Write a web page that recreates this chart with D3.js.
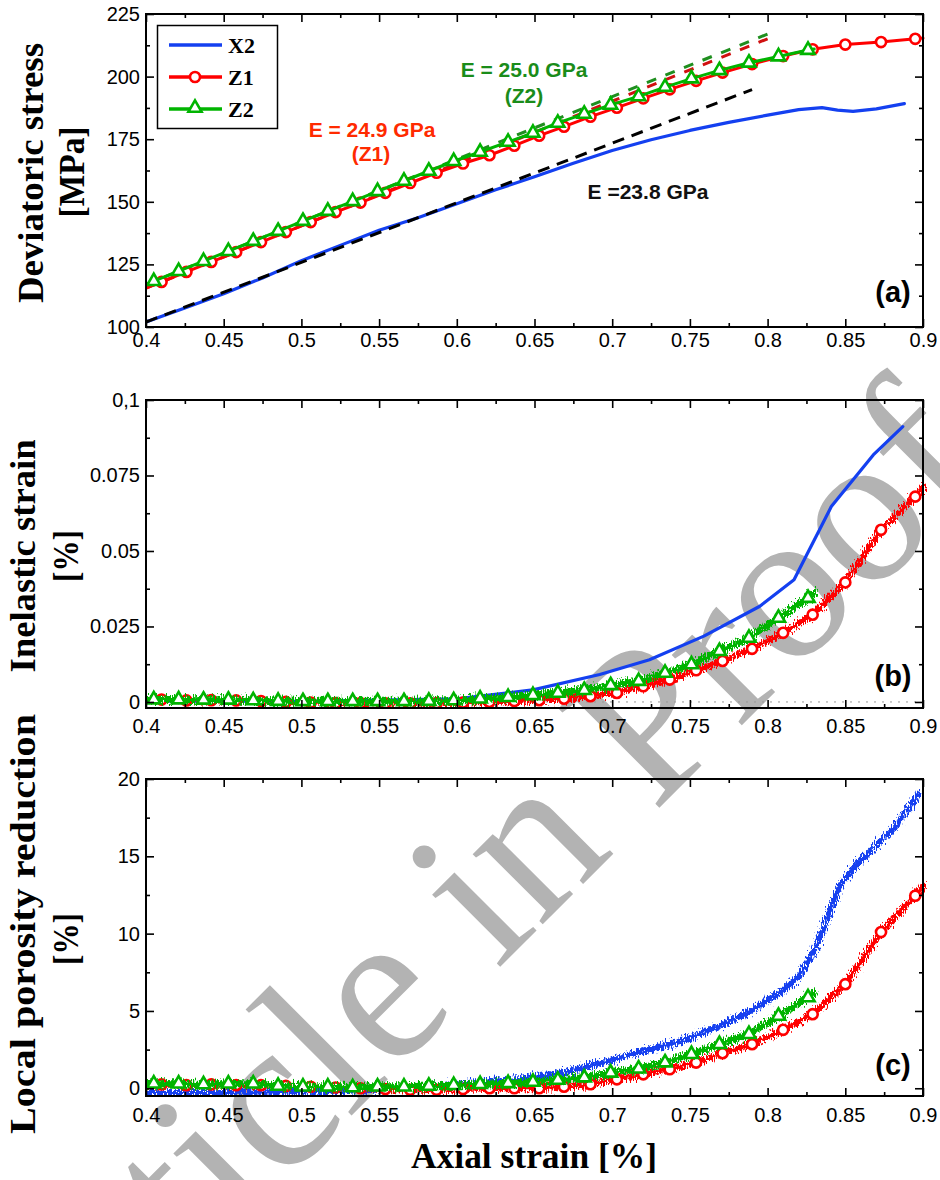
<!DOCTYPE html>
<html>
<head>
<meta charset="utf-8">
<script src="https://cdn.jsdelivr.net/npm/d3@7"></script>
<style>
  body { margin: 0; background: #fff; }
  svg { display: block; }
</style>
</head>
<body>
<svg id="fig" width="940" height="1180"></svg>
<script>
// ---- tick values -------------------------------------------------------
const strainTicks = [0.4, 0.45, 0.5, 0.55, 0.6, 0.65, 0.7, 0.75, 0.8, 0.85, 0.9];
const strainTickLabels = ["0.4", "0.45", "0.5", "0.55", "0.6", "0.65", "0.7", "0.75", "0.8", "0.85", "0.9"];
const stressTicks = [100, 125, 150, 175, 200, 225];
const inelasticTicks = [0, 0.025, 0.05, 0.075, 0.1];
const inelasticTickLabels = ["0", "0.025", "0.05", "0.075", "0,1"];
const porosityTicks = [0, 5, 10, 15, 20];

// ---- specimen names ----------------------------------------------------
const specimens = ["X2", "Z1", "Z2"];

// ---- X2 (no markers) ---------------------------------------------------
const x2StressStrain = [0.4, 0.425, 0.45, 0.475, 0.5, 0.525, 0.55, 0.575, 0.6, 0.625, 0.65, 0.675, 0.7, 0.725, 0.75, 0.775, 0.8, 0.82, 0.835, 0.845, 0.855, 0.87, 0.888];
const x2Stress = [102, 107.6, 113.3, 119.6, 126.5, 132.6, 138.6, 143.6, 149.2, 154.8, 160, 165.4, 170.5, 174.8, 178.5, 181.7, 184.6, 186.8, 187.6, 186.6, 186.1, 187.1, 189.2];

const x2InelStrain = [0.4, 0.5, 0.6, 0.649, 0.692, 0.724, 0.759, 0.795, 0.817, 0.841, 0.868, 0.887];
const x2Inelastic = [0.0003, 0.0002, 0.001, 0.004, 0.0091, 0.014, 0.0218, 0.0317, 0.0405, 0.0647, 0.0818, 0.0912];

const x2PoroStrain = [0.4, 0.45, 0.5, 0.55, 0.6, 0.62, 0.641, 0.673, 0.694, 0.716, 0.7415, 0.769, 0.791, 0.808, 0.82, 0.8316, 0.84, 0.8466, 0.855, 0.87, 0.883, 0.895, 0.897];
const x2Porosity = [-0.3, -0.3, -0.25, -0.1, 0.3, 0.45, 0.6, 1.12, 1.66, 2.3, 2.96, 4.0, 5.1, 6.2, 7.2, 9.2, 11.4, 13.1, 14.2, 15.7, 17.0, 18.7, 19.0];

// ---- Z1 (circles at every point except the two ends) -------------------
const z1Strain = [0.4, 0.41, 0.426, 0.442, 0.458, 0.474, 0.49, 0.506, 0.522, 0.538, 0.554, 0.57, 0.587, 0.604, 0.621, 0.637, 0.653, 0.669, 0.686, 0.703, 0.72, 0.737, 0.754, 0.771, 0.79, 0.81, 0.829, 0.85, 0.873, 0.895, 0.9];
const z1Stress = [115.5, 118.0, 122.0, 126.0, 129.9, 133.9, 137.9, 141.9, 145.9, 149.7, 153.6, 157.5, 161.6, 165.3, 168.6, 172.4, 176.4, 180.0, 184.0, 187.6, 191.3, 194.9, 198.3, 201.6, 205.0, 208.2, 210.9, 212.8, 213.8, 215.1, 215.4];
const z1Inelastic = [0.0008, 0.0008, 0.0005, 0.0006, 0.0005, 0.0003, 0.0, -0.0002, -0.0004, -0.0004, -0.0005, -0.0005, -0.0004, -0.0002, 0.0, 0.0003, 0.0006, 0.0011, 0.0019, 0.003, 0.0052, 0.0074, 0.0105, 0.0136, 0.0176, 0.0229, 0.0289, 0.0396, 0.057, 0.068, 0.071];
const z1Porosity = [0.2, 0.25, 0.2, 0.25, 0.2, 0.2, 0.15, 0.1, 0.05, 0.0, -0.05, -0.1, -0.1, -0.05, 0.0, 0.0, 0.0, 0.1, 0.26, 0.58, 0.9, 1.23, 1.66, 2.27, 2.85, 3.78, 4.79, 6.73, 10.1, 12.45, 13.1];

// ---- Z2 (triangles at every point except the two ends) -----------------
const z2Strain = [0.4, 0.405, 0.421, 0.437, 0.453, 0.469, 0.485, 0.501, 0.517, 0.533, 0.549, 0.566, 0.582, 0.598, 0.615, 0.633, 0.649, 0.665, 0.682, 0.699, 0.717, 0.734, 0.751, 0.769, 0.788, 0.807, 0.826, 0.83];
const z2Stress = [117.0, 118.3, 122.3, 126.3, 130.3, 134.3, 138.3, 142.3, 146.3, 150.2, 154.2, 158.3, 162.3, 166.2, 169.9, 173.9, 177.5, 181.5, 185.1, 188.7, 192.1, 195.8, 199.2, 202.5, 205.5, 208.0, 210.6, 211.0];
const z2Inelastic = [0.0008, 0.0008, 0.0008, 0.0007, 0.0007, 0.0005, 0.0003, 0.0002, 0.0002, 0.0002, 0.0002, 0.0002, 0.0003, 0.0005, 0.0011, 0.0016, 0.0022, 0.003, 0.0039, 0.0055, 0.0069, 0.0096, 0.0124, 0.0168, 0.0212, 0.0278, 0.0344, 0.036];
const z2Porosity = [0.25, 0.3, 0.3, 0.25, 0.3, 0.3, 0.15, 0.1, 0.1, 0.05, 0.1, 0.1, 0.15, 0.2, 0.26, 0.32, 0.41, 0.54, 0.69, 1.0, 1.27, 1.66, 2.2, 2.85, 3.5, 4.68, 5.87, 6.1];

// ---- linear elastic fits (order: X2, Z1, Z2) ---------------------------
const fitModulusGPa = [23.8, 24.9, 25.0];
const fitStressAtStart = [102, 115.5, 117];
const fitStrainStart = [0.4, 0.4, 0.4];
const fitStrainEnd = [0.79, 0.8, 0.8];

// ---- styling -----------------------------------------------------------
const colors = { X2: "#1440f0", Z1: "#ff0000", Z2: "#00b400" };
const fitColors = ["#000000", "#d01010", "#1f8f1f"];
const labelColors = ["#111111", "#ff2a00", "#1a8c1a"];
const sansFont = "'Liberation Sans', Arial, Helvetica, sans-serif";
const serifFont = "'Liberation Serif', 'Times New Roman', serif";

const svg = d3.select("#fig");

// rough texture for the raw, high-rate measurement traces
const defs = svg.append("defs");
const rough = defs.append("filter").attr("id", "rough")
  .attr("filterUnits", "userSpaceOnUse")
  .attr("x", 0).attr("y", 0).attr("width", 940).attr("height", 1180);
rough.append("feTurbulence").attr("type", "fractalNoise")
  .attr("baseFrequency", "0.9 0.25").attr("numOctaves", 2).attr("seed", 7).attr("result", "noise");
rough.append("feDisplacementMap").attr("in", "SourceGraphic").attr("in2", "noise")
  .attr("scale", 13).attr("xChannelSelector", "R").attr("yChannelSelector", "G");

// "Article in Proof" stamp behind the plots
svg.append("text")
  .attr("transform", "translate(514,953) rotate(-45)")
  .attr("text-anchor", "middle")
  .attr("font-family", serifFont)
  .attr("font-size", 216)
  .attr("fill", "#b3b3b3")
  .text("Article in Proof");

const x = d3.scaleLinear().domain([0.4, 0.9]).range([146, 923]);

const panels = {
  a: { y: d3.scaleLinear().domain([100, 225]).range([327, 14]), ticks: stressTicks, labels: stressTicks.map(String), minor: 12.5, xPad: 6 },
  b: { y: d3.scaleLinear().domain([-0.002, 0.1]).range([708, 400]), ticks: inelasticTicks, labels: inelasticTickLabels, minor: 0.0125, xPad: 11 },
  c: { y: d3.scaleLinear().domain([-0.5, 20]).range([1096, 779]), ticks: porosityTicks, labels: porosityTicks.map(String), minor: 2.5, xPad: 12 }
};

const minorStrain = d3.range(0.425, 0.9, 0.05);

function styleAxis(g) {
  g.select(".domain").remove();
  g.selectAll("line").attr("stroke", "#000").attr("stroke-width", 1.6);
  g.selectAll("text").attr("font-family", sansFont).attr("font-size", 20).attr("fill", "#000");
}

function drawFrame(p) {
  const y1 = p.y.domain()[1];
  const top = p.y.range()[1], bottom = p.y.range()[0];
  const left = x.range()[0], right = x.range()[1];
  const minorY = d3.range(p.ticks[0] + p.minor, y1, p.minor * 2);

  // bottom
  svg.append("g").attr("transform", `translate(0,${bottom})`)
    .call(d3.axisBottom(x).tickValues(strainTicks).tickFormat((d, i) => strainTickLabels[i]).tickSizeInner(-8).tickSizeOuter(0).tickPadding(p.xPad))
    .call(styleAxis);
  svg.append("g").attr("transform", `translate(0,${bottom})`)
    .call(d3.axisBottom(x).tickValues(minorStrain).tickFormat("").tickSizeInner(-4).tickSizeOuter(0))
    .call(styleAxis);
  // top
  svg.append("g").attr("transform", `translate(0,${top})`)
    .call(d3.axisTop(x).tickValues(strainTicks).tickFormat("").tickSizeInner(-8).tickSizeOuter(0))
    .call(styleAxis);
  svg.append("g").attr("transform", `translate(0,${top})`)
    .call(d3.axisTop(x).tickValues(minorStrain).tickFormat("").tickSizeInner(-4).tickSizeOuter(0))
    .call(styleAxis);
  // left
  svg.append("g").attr("transform", `translate(${left},0)`)
    .call(d3.axisLeft(p.y).tickValues(p.ticks).tickFormat((d, i) => p.labels[i]).tickSizeInner(-8).tickSizeOuter(0).tickPadding(6))
    .call(styleAxis);
  svg.append("g").attr("transform", `translate(${left},0)`)
    .call(d3.axisLeft(p.y).tickValues(minorY).tickFormat("").tickSizeInner(-4).tickSizeOuter(0))
    .call(styleAxis);
  // right
  svg.append("g").attr("transform", `translate(${right},0)`)
    .call(d3.axisRight(p.y).tickValues(p.ticks).tickFormat("").tickSizeInner(-8).tickSizeOuter(0))
    .call(styleAxis);
  svg.append("g").attr("transform", `translate(${right},0)`)
    .call(d3.axisRight(p.y).tickValues(minorY).tickFormat("").tickSizeInner(-4).tickSizeOuter(0))
    .call(styleAxis);

  svg.append("rect").attr("x", left).attr("y", top)
    .attr("width", right - left).attr("height", bottom - top)
    .attr("fill", "none").attr("stroke", "#000").attr("stroke-width", 2);
}

function clipFor(id, p) {
  const top = p.y.range()[1], bottom = p.y.range()[0];
  defs.append("clipPath").attr("id", id).append("rect")
    .attr("x", x.range()[0]).attr("y", top)
    .attr("width", x.range()[1] - x.range()[0] + 6).attr("height", bottom - top);
  return `url(#${id})`;
}

function series(strains, values) {
  return strains.map((s, i) => [s, values[i]]);
}

function drawLine(g, p, pts, color, width, noisy) {
  const line = d3.line().x(d => x(d[0])).y(d => p.y(d[1]));
  g.append("path").attr("d", line(pts))
    .attr("fill", "none").attr("stroke", color).attr("stroke-width", width)
    .attr("stroke-linejoin", "round").attr("stroke-linecap", "round")
    .attr("filter", noisy ? "url(#rough)" : null);
}

const circleSym = d3.symbol().type(d3.symbolCircle).size(80);
const triSym = d3.symbol().type(d3.symbolTriangle).size(75);

function drawMarkers(g, p, pts, kind, color) {
  const inner = pts.slice(1, pts.length - 1);
  g.selectAll(null).data(inner).join("path")
    .attr("transform", d => `translate(${x(d[0])},${p.y(d[1])})`)
    .attr("d", kind === "circle" ? circleSym() : triSym())
    .attr("fill", "#fff").attr("stroke", color).attr("stroke-width", 2.6);
}

// ================= panel (a): deviatoric stress ==========================
(function () {
  const p = panels.a;
  const g = svg.append("g").attr("clip-path", clipFor("clipA", p));
  const fitLine = (k) => {
    const s0 = fitStrainStart[k], s1 = fitStrainEnd[k];
    const slope = fitModulusGPa[k] * 10; // MPa per % strain
    return [[s0, fitStressAtStart[k]], [s1, fitStressAtStart[k] + slope * (s1 - s0)]];
  };
  const line = d3.line().x(d => x(d[0])).y(d => p.y(d[1]));
  // fitted elastic slopes of Z1 and Z2, behind the curves
  [1, 2].forEach(k => {
    g.append("path").attr("d", line(fitLine(k)))
      .attr("fill", "none").attr("stroke", fitColors[k]).attr("stroke-width", 3)
      .attr("stroke-dasharray", "10,10");
  });
  drawLine(g, p, series(x2StressStrain, x2Stress), colors.X2, 3.2, false);
  g.append("path").attr("d", line(fitLine(0)))
    .attr("fill", "none").attr("stroke", fitColors[0]).attr("stroke-width", 3)
    .attr("stroke-dasharray", "12,8");
  const z1 = series(z1Strain, z1Stress), z2 = series(z2Strain, z2Stress);
  drawLine(g, p, z1, colors.Z1, 3, false);
  drawMarkers(g, p, z1, "circle", colors.Z1);
  drawLine(g, p, z2, colors.Z2, 3, false);
  drawMarkers(g, p, z2, "tri", colors.Z2);
  drawFrame(p);

  // legend
  const lg = svg.append("g");
  lg.append("rect").attr("x", 157.5).attr("y", 25.5).attr("width", 120).attr("height", 103)
    .attr("fill", "#fff").attr("stroke", "#000").attr("stroke-width", 1.5);
  const rows = [45, 77, 109];
  specimens.forEach((name, i) => {
    lg.append("line").attr("x1", 169).attr("x2", 222).attr("y1", rows[i]).attr("y2", rows[i])
      .attr("stroke", colors[name]).attr("stroke-width", 3.5);
    if (name === "Z1") lg.append("path").attr("transform", `translate(195,${rows[i]})`).attr("d", circleSym())
      .attr("fill", "#fff").attr("stroke", colors.Z1).attr("stroke-width", 2.6);
    if (name === "Z2") lg.append("path").attr("transform", `translate(195,${rows[i] - 1})`).attr("d", triSym())
      .attr("fill", "#fff").attr("stroke", colors.Z2).attr("stroke-width", 2.6);
    lg.append("text").attr("x", 228).attr("y", rows[i] + 8)
      .attr("font-family", serifFont).attr("font-weight", "bold").attr("font-size", 22)
      .text(name);
  });

  // fit annotations
  const ann = [
    { t: `E =${fitModulusGPa[0].toFixed(1)} GPa`, x: 648, y: 199, c: labelColors[0] },
    { t: `E = ${fitModulusGPa[1].toFixed(1)} GPa`, x: 372, y: 137, c: labelColors[1] },
    { t: "(Z1)", x: 371, y: 161, c: labelColors[1] },
    { t: `E = ${fitModulusGPa[2].toFixed(1)} GPa`, x: 524, y: 77, c: labelColors[2] },
    { t: "(Z2)", x: 524, y: 103, c: labelColors[2] }
  ];
  ann.forEach(a => svg.append("text").attr("x", a.x).attr("y", a.y)
    .attr("text-anchor", "middle").attr("font-family", sansFont).attr("font-weight", "bold")
    .attr("font-size", 21).attr("fill", a.c).text(a.t));
})();

// ================= panel (b): inelastic strain ===========================
(function () {
  const p = panels.b;
  const g = svg.append("g").attr("clip-path", clipFor("clipB", p));
  g.append("line").attr("x1", x(0.4)).attr("x2", x(0.9)).attr("y1", p.y(0)).attr("y2", p.y(0))
    .attr("stroke", "#999").attr("stroke-width", 1).attr("stroke-dasharray", "2,6");
  drawLine(g, p, series(x2InelStrain, x2Inelastic), colors.X2, 3.2, false);
  const z1 = series(z1Strain, z1Inelastic), z2 = series(z2Strain, z2Inelastic);
  drawLine(g, p, z1, colors.Z1, 6, true);
  drawMarkers(g, p, z1, "circle", colors.Z1);
  drawLine(g, p, z2, colors.Z2, 7, true);
  drawMarkers(g, p, z2, "tri", colors.Z2);
  drawFrame(p);
})();

// ================= panel (c): local porosity reduction ===================
(function () {
  const p = panels.c;
  const g = svg.append("g").attr("clip-path", clipFor("clipC", p));
  drawLine(g, p, series(x2PoroStrain, x2Porosity), colors.X2, 6, true);
  const z1 = series(z1Strain, z1Porosity), z2 = series(z2Strain, z2Porosity);
  drawLine(g, p, z1, colors.Z1, 6, true);
  drawMarkers(g, p, z1, "circle", colors.Z1);
  drawLine(g, p, z2, colors.Z2, 7, true);
  drawMarkers(g, p, z2, "tri", colors.Z2);
  drawFrame(p);
})();

// ================= panel tags and axis titles ============================
[["(a)", 302], ["(b)", 686], ["(c)", 1075]].forEach(([t, yb]) =>
  svg.append("text").attr("x", 893).attr("y", yb).attr("text-anchor", "middle")
    .attr("font-family", sansFont).attr("font-weight", "bold").attr("font-size", 29).text(t));

function yTitle(text, cx, cy, len) {
  svg.append("text").attr("transform", `translate(${cx},${cy}) rotate(-90)`)
    .attr("text-anchor", "middle").attr("font-family", serifFont).attr("font-weight", "bold")
    .attr("font-size", 35).attr("textLength", len).attr("lengthAdjust", "spacingAndGlyphs")
    .text(text);
}
yTitle("Deviatoric stress", 43, 173, 260);
yTitle("[MPa]", 84, 172, 91);
yTitle("Inelastic strain", 35, 556, 233);
yTitle("[%]", 78, 556, 52);
yTitle("Local porosity reduction", 35, 924, 420);
yTitle("[%]", 78, 939, 52);

svg.append("text").attr("x", 534).attr("y", 1168).attr("text-anchor", "middle")
  .attr("font-family", serifFont).attr("font-weight", "bold").attr("font-size", 35)
  .attr("textLength", 246).attr("lengthAdjust", "spacingAndGlyphs")
  .text("Axial strain [%]");
</script>
</body>
</html>
